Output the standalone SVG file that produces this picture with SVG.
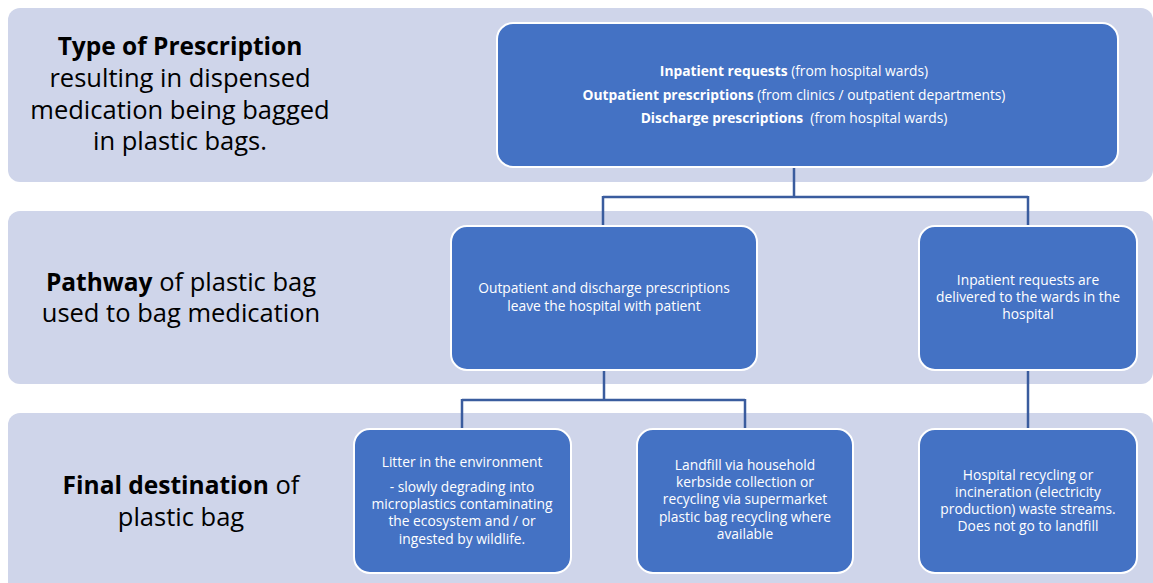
<svg xmlns="http://www.w3.org/2000/svg" width="1153" height="583" viewBox="0 0 1153 583">
<style>
.band{fill:#CFD5EA}
.node{fill:#4472C4;stroke:#FFFFFF;stroke-width:2}
.lbl{font-family:"Open Sans","Liberation Sans",sans-serif;font-size:25.5px;fill:#000;text-anchor:middle}
.b{font-weight:bold;font-size:24.5px}
.nt{font-family:"Open Sans","Liberation Sans",sans-serif;font-size:13.8px;fill:#FFFFFF;text-anchor:middle}
.conn{fill:none;stroke:#3A5C9E;stroke-width:2.5}
</style>
<rect width="1153" height="583" fill="#FFFFFF"/>
<g id="band1">
<rect class="band" x="8" y="8" width="1145" height="174" rx="12"/>
<text class="lbl" x="180" y="55"><tspan class="b">Type of Prescription</tspan></text>
<text class="lbl" x="180" y="87">resulting in dispensed</text>
<text class="lbl" x="180" y="119">medication being bagged</text>
<text class="lbl" x="180" y="150">in plastic bags.</text>
</g>
<g id="band2">
<rect class="band" x="8" y="211" width="1145" height="173" rx="12"/>
<text class="lbl" x="181" y="291"><tspan class="b">Pathway</tspan> of plastic bag</text>
<text class="lbl" x="181" y="322">used to bag medication</text>
</g>
<g id="band3">
<rect class="band" x="8" y="413" width="1145" height="185" rx="12"/>
<text class="lbl" x="181" y="494"><tspan class="b">Final destination</tspan> of</text>
<text class="lbl" x="181" y="526">plastic bag</text>
</g>
<g id="connectors">
<path class="conn" d="M794 167 V197 M603 197 H1028 M603 196 V226 M1028 196 V226"/>
<path class="conn" d="M604 370 V400 M462 400 H745 M462 399 V429 M745 399 V429"/>
<path class="conn" d="M1028 370 V429"/>
</g>
<g id="node-prescriptions">
<rect class="node" x="497" y="23" width="621" height="144" rx="16"/>
<text class="nt" x="794" y="76"><tspan font-weight="bold">Inpatient requests</tspan> (from hospital wards)</text>
<text class="nt" x="794" y="100"><tspan font-weight="bold">Outpatient prescriptions</tspan> (from clinics / outpatient departments)</text>
<text class="nt" x="794" y="123"><tspan font-weight="bold">Discharge prescriptions</tspan>&#160; (from hospital wards)</text>
</g>
<g id="node-outpatient">
<rect class="node" x="451" y="226" width="306" height="144" rx="16"/>
<text class="nt" x="604" y="293">Outpatient and discharge prescriptions</text>
<text class="nt" x="604" y="311">leave the hospital with patient</text>
</g>
<g id="node-inpatient">
<rect class="node" x="919" y="226" width="218" height="144" rx="16"/>
<text class="nt" x="1028" y="285">Inpatient requests are</text>
<text class="nt" x="1028" y="302">delivered to the wards in the</text>
<text class="nt" x="1028" y="319">hospital</text>
</g>
<g id="node-litter">
<rect class="node" x="354" y="429" width="217" height="144" rx="16"/>
<text class="nt" x="462" y="467">Litter in the environment</text>
<text class="nt" x="462" y="492">- slowly degrading into</text>
<text class="nt" x="462" y="509">microplastics contaminating</text>
<text class="nt" x="462" y="526">the ecosystem and / or</text>
<text class="nt" x="462" y="544">ingested by wildlife.</text>
</g>
<g id="node-landfill">
<rect class="node" x="637" y="429" width="216" height="144" rx="16"/>
<text class="nt" x="745" y="470">Landfill via household</text>
<text class="nt" x="745" y="487">kerbside collection or</text>
<text class="nt" x="745" y="504">recycling via supermarket</text>
<text class="nt" x="745" y="522">plastic bag recycling where</text>
<text class="nt" x="745" y="539">available</text>
</g>
<g id="node-hospital">
<rect class="node" x="919" y="429" width="218" height="144" rx="16"/>
<text class="nt" x="1028" y="479.5">Hospital recycling or</text>
<text class="nt" x="1028" y="496.5">incineration (electricity</text>
<text class="nt" x="1028" y="513.5">production) waste streams.</text>
<text class="nt" x="1028" y="530.5">Does not go to landfill</text>
</g>
</svg>
